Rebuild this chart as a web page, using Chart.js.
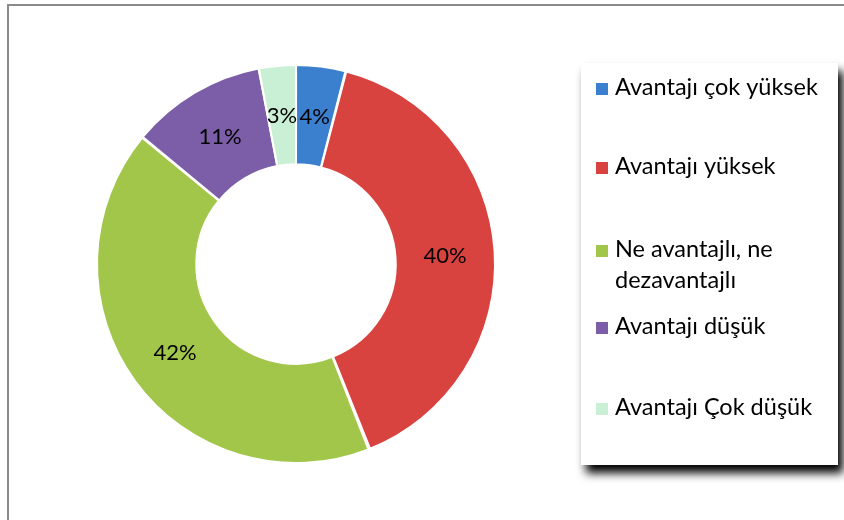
<!DOCTYPE html>
<html>
<head>
<meta charset="utf-8">
<script src="https://cdn.jsdelivr.net/npm/chart.js@4/dist/chart.umd.min.js"></script>
<style>
  html, body { margin: 0; padding: 0; background: #fff; }
  #wrap { position: relative; width: 844px; height: 520px; }
</style>
</head>
<body>
<div id="wrap"><canvas id="c" width="844" height="520"></canvas></div>
<script>
// ---- data ----
const categories = ['Avantajı çok yüksek', 'Avantajı yüksek', 'Ne avantajlı, ne dezavantajlı', 'Avantajı düşük', 'Avantajı Çok düşük'];
const shares = [4, 40, 42, 11, 3];
const sliceColors = ['#3b7fcf', '#d8423f', '#a2c64a', '#7c5ea8', '#c9efd5'];

const FONT = 'Lato, "Open Sans", sans-serif';

function wrapText(ctx, text, maxW) {
  const words = text.split(' ');
  const lines = [];
  let cur = '';
  for (const w of words) {
    const t = cur ? cur + ' ' + w : w;
    if (ctx.measureText(t).width > maxW && cur) { lines.push(cur); cur = w; }
    else cur = t;
  }
  if (cur) lines.push(cur);
  return lines;
}

const framePlugin = {
  id: 'frame',
  beforeDraw(chart) {
    const ctx = chart.ctx;
    ctx.save();
    ctx.strokeStyle = '#8a8a8a';
    ctx.lineWidth = 2;
    ctx.beginPath();
    ctx.moveTo(8, 520);
    ctx.lineTo(8, 5);
    ctx.lineTo(844, 5);
    ctx.stroke();
    ctx.restore();
  }
};

const labelPlugin = {
  id: 'sliceLabels',
  afterDatasetsDraw(chart) {
    const ctx = chart.ctx;
    const meta = chart.getDatasetMeta(0);
    ctx.save();
    ctx.font = '22px ' + FONT;
    ctx.fillStyle = '#000';
    ctx.textAlign = 'center';
    ctx.textBaseline = 'middle';
    meta.data.forEach((arc, i) => {
      const p = arc.tooltipPosition();
      ctx.fillText(shares[i] + '%', p.x, p.y + 1);
    });
    ctx.restore();
  }
};

const legendPlugin = {
  id: 'boxLegend',
  afterDraw(chart) {
    const ctx = chart.ctx;
    const box = { x: 581, y: 63, w: 257, h: 402 };
    const baselines = [95, 174, 257, 334, 415];
    const lineH = 31;
    ctx.save();
    ctx.shadowColor = 'rgba(0,0,0,1)';
    ctx.shadowBlur = 9;
    ctx.shadowOffsetX = 5;
    ctx.shadowOffsetY = 8;
    ctx.fillStyle = '#fff';
    ctx.fillRect(box.x, box.y, box.w, box.h);
    ctx.restore();

    ctx.save();
    ctx.font = '23.5px ' + FONT;
    ctx.textBaseline = 'alphabetic';
    ctx.textAlign = 'left';
    categories.forEach((lab, i) => {
      const by = baselines[i];
      ctx.fillStyle = sliceColors[i];
      ctx.fillRect(596, by - 12, 12, 12);
      ctx.fillStyle = '#000';
      const lines = wrapText(ctx, lab, 218);
      lines.forEach((ln, k) => ctx.fillText(ln, 615, by + k * lineH));
    });
    ctx.restore();
  }
};

new Chart(document.getElementById('c'), {
  type: 'doughnut',
  data: {
    labels: categories,
    datasets: [{
      data: shares,
      backgroundColor: sliceColors,
      borderColor: '#ffffff',
      borderWidth: 2,
      spacing: 1,
      hoverOffset: 0
    }]
  },
  options: {
    responsive: false,
    animation: false,
    cutout: '50%',
    layout: { padding: { left: 96, right: 348, top: 64, bottom: 56 } },
    plugins: {
      legend: { display: false },
      tooltip: { enabled: false }
    }
  },
  plugins: [framePlugin, labelPlugin, legendPlugin]
});
</script>
</body>
</html>
